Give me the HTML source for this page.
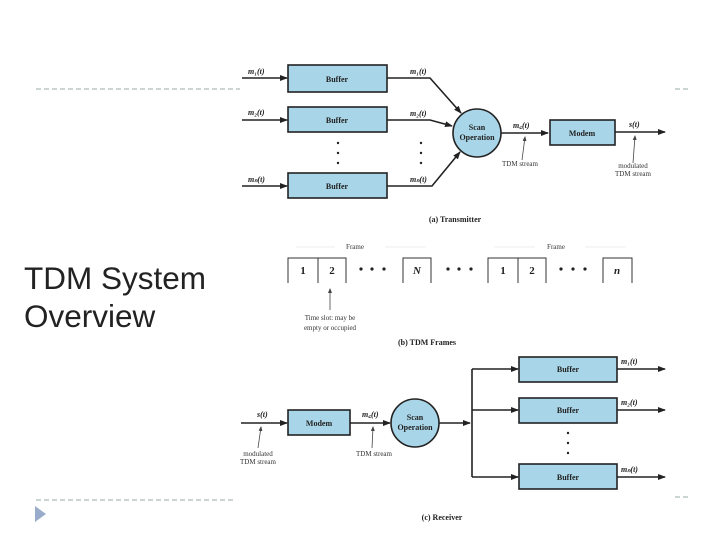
<!DOCTYPE html>
<html><head><meta charset="utf-8"><style>
body{margin:0;background:#fff;width:720px;height:540px;overflow:hidden;position:relative;font-family:"Liberation Sans",sans-serif}
.t{position:absolute;left:24px;top:259px;font-size:31.5px;line-height:38px;color:#222}
svg{position:absolute;left:0;top:0}
</style></head><body>
<div class="t">TDM System<br>Overview</div>
<svg width="720" height="540" viewBox="0 0 720 540" font-family="Liberation Serif,serif">
<defs><marker id="a" markerWidth="8" markerHeight="6" refX="7" refY="3" orient="auto" markerUnits="userSpaceOnUse"><path d="M0,0L8,3L0,6z" fill="#222"/></marker>
<marker id="s" markerWidth="5" markerHeight="4" refX="4" refY="2" orient="auto" markerUnits="userSpaceOnUse"><path d="M0,0L5,2L0,4z" fill="#444"/></marker></defs>
<g stroke="#9aa" stroke-dasharray="5,3" stroke-width="1"><line x1="36" y1="89" x2="240" y2="89"/><line x1="36" y1="500" x2="234" y2="500"/><line x1="675" y1="89" x2="688" y2="89"/><line x1="675" y1="497" x2="688" y2="497"/></g>
<path d="M35,506L46,514L35,522z" fill="#9aaccc"/>
<g stroke="#222" stroke-width="1.6" fill="none">
<line x1="242" y1="78" x2="287" y2="78" marker-end="url(#a)"/><line x1="242" y1="120" x2="287" y2="120" marker-end="url(#a)"/><line x1="242" y1="186" x2="287" y2="186" marker-end="url(#a)"/>
<polyline points="387,78 430,78 461,113" marker-end="url(#a)"/><polyline points="387,120 430,120 452,126" marker-end="url(#a)"/><polyline points="387,186 432,186 460,152" marker-end="url(#a)"/>
<line x1="501" y1="133" x2="548" y2="133" marker-end="url(#a)"/><line x1="615" y1="132" x2="665" y2="132" marker-end="url(#a)"/>
<line x1="241" y1="423" x2="287" y2="423" marker-end="url(#a)"/><line x1="350" y1="423" x2="390" y2="423" marker-end="url(#a)"/><line x1="439" y1="423" x2="470" y2="423" marker-end="url(#a)"/>
<polyline points="472,369 472,477"/>
<line x1="472" y1="369" x2="518" y2="369" marker-end="url(#a)"/><line x1="472" y1="410" x2="518" y2="410" marker-end="url(#a)"/><line x1="472" y1="477" x2="518" y2="477" marker-end="url(#a)"/>
<line x1="617" y1="369" x2="665" y2="369" marker-end="url(#a)"/><line x1="617" y1="410" x2="665" y2="410" marker-end="url(#a)"/><line x1="617" y1="477" x2="665" y2="477" marker-end="url(#a)"/>
</g>
<g fill="#a8d6e8" stroke="#222" stroke-width="1.6">
<rect x="288" y="65" width="99" height="27"/><rect x="288" y="107" width="99" height="25"/><rect x="288" y="173" width="99" height="25"/>
<circle cx="477" cy="133" r="24"/><rect x="550" y="120" width="65" height="25"/>
<rect x="288" y="410" width="62" height="25"/><circle cx="415" cy="423" r="24"/>
<rect x="519" y="357" width="98" height="25"/><rect x="519" y="398" width="98" height="25"/><rect x="519" y="464" width="98" height="25"/>
</g>
<g font-size="8" font-weight="bold" text-anchor="middle" fill="#222">
<text x="337" y="82">Buffer</text><text x="337" y="123">Buffer</text><text x="337" y="189">Buffer</text>
<text x="477" y="130">Scan</text><text x="477" y="140">Operation</text><text x="582" y="136">Modem</text>
<text x="319" y="426">Modem</text><text x="415" y="420">Scan</text><text x="415" y="430">Operation</text>
<text x="568" y="372">Buffer</text><text x="568" y="413">Buffer</text><text x="568" y="480">Buffer</text>
<text x="455" y="222">(a) Transmitter</text><text x="427" y="345">(b) TDM Frames</text><text x="442" y="520">(c) Receiver</text>
</g>
<g font-size="8" font-style="italic" font-weight="bold" fill="#222">
<text x="248" y="74">m₁(t)</text><text x="248" y="115">m₂(t)</text><text x="248" y="182">mₙ(t)</text>
<text x="410" y="74">m₁(t)</text><text x="410" y="116">m₂(t)</text><text x="410" y="182">mₙ(t)</text>
<text x="513" y="128">m꜀(t)</text><text x="629" y="127">s(t)</text>
<text x="257" y="417">s(t)</text><text x="362" y="417">m꜀(t)</text>
<text x="621" y="364">m₁(t)</text><text x="621" y="405">m₂(t)</text><text x="621" y="472">mₙ(t)</text>
</g>
<g fill="#222"><circle cx="338" cy="143" r="1.2"/><circle cx="338" cy="153" r="1.2"/><circle cx="338" cy="163" r="1.2"/>
<circle cx="421" cy="143" r="1.2"/><circle cx="421" cy="153" r="1.2"/><circle cx="421" cy="163" r="1.2"/>
<circle cx="568" cy="433" r="1.2"/><circle cx="568" cy="443" r="1.2"/><circle cx="568" cy="453" r="1.2"/></g>
<g stroke="#444" stroke-width="0.8" fill="none">
<line x1="522" y1="160" x2="525" y2="137" marker-end="url(#s)"/><line x1="633" y1="163" x2="635" y2="136" marker-end="url(#s)"/>
<line x1="258" y1="448" x2="261" y2="427" marker-end="url(#s)"/><line x1="372" y1="448" x2="373" y2="427" marker-end="url(#s)"/>
<line x1="330" y1="310" x2="330" y2="289" marker-end="url(#s)"/>
</g>
<g stroke="#ddd" stroke-width="0.6"><line x1="296" y1="247" x2="335" y2="247"/><line x1="385" y1="247" x2="426" y2="247"/><line x1="494" y1="247" x2="535" y2="247"/><line x1="585" y1="247" x2="626" y2="247"/></g>
<g font-size="7" fill="#333" text-anchor="middle">
<text x="520" y="166">TDM stream</text><text x="633" y="168">modulated</text><text x="633" y="176">TDM stream</text>
<text x="258" y="456">modulated</text><text x="258" y="464">TDM stream</text><text x="374" y="456">TDM stream</text>
<text x="355" y="249">Frame</text><text x="556" y="249">Frame</text>
<text x="330" y="320">Time slot: may be</text><text x="330" y="330">empty or occupied</text>
</g>
<g stroke="#333" stroke-width="1" fill="none">
<path d="M288,283V258H346V283M318,258V283"/><path d="M403,283V258H431V283"/>
<path d="M488,283V258H546V283M518,258V283"/><path d="M603,283V258H632V283"/>
</g>
<g font-size="11" font-weight="bold" text-anchor="middle" fill="#222">
<text x="303" y="274">1</text><text x="332" y="274">2</text><text x="417" y="274" font-style="italic">N</text>
<text x="503" y="274">1</text><text x="532" y="274">2</text><text x="617" y="274" font-style="italic">n</text>
</g>
<g fill="#222"><circle cx="361" cy="269" r="1.6"/><circle cx="372" cy="269" r="1.6"/><circle cx="384" cy="269" r="1.6"/>
<circle cx="448" cy="269" r="1.6"/><circle cx="459" cy="269" r="1.6"/><circle cx="471" cy="269" r="1.6"/>
<circle cx="561" cy="269" r="1.6"/><circle cx="573" cy="269" r="1.6"/><circle cx="585" cy="269" r="1.6"/></g>
</svg>
</body></html>
